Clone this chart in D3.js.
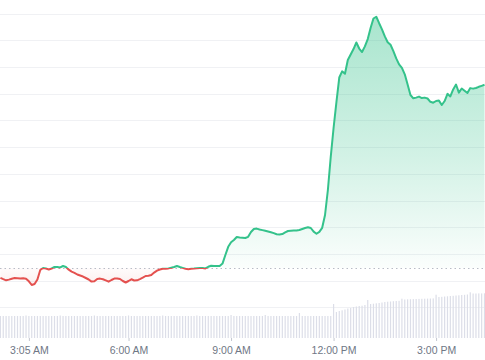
<!DOCTYPE html>
<html>
<head>
<meta charset="utf-8">
<script src="https://cdn.jsdelivr.net/npm/d3@7"></script>
<style>
  html, body { margin: 0; padding: 0; background: #ffffff; }
  svg { display: block; }
</style>
</head>
<body>
<div id="chart"></div>
<script>
// ---- data ----
const times = [
"02:15","02:20","02:25","02:30","02:35","02:40","02:45","02:50","02:55",
"03:00","03:05","03:10","03:15","03:20","03:25","03:30","03:35","03:40","03:45","03:50","03:55",
"04:00","04:05","04:10","04:15","04:20","04:25","04:30","04:35","04:40","04:45","04:50","04:55",
"05:00","05:05","05:10","05:15","05:20","05:25","05:30","05:35","05:40","05:45","05:50","05:55",
"06:00","06:05","06:10","06:15","06:20","06:25","06:30","06:35","06:40","06:45","06:50","06:55",
"07:00","07:05","07:10","07:15","07:20","07:25","07:30","07:35","07:40","07:45","07:50","07:55",
"08:00","08:05","08:10","08:15","08:20","08:25","08:30","08:35","08:40","08:45","08:50","08:55",
"09:00","09:05","09:10","09:15","09:20","09:25","09:30","09:35","09:40","09:45","09:50","09:55",
"10:00","10:05","10:10","10:15","10:20","10:25","10:30","10:35","10:40","10:45","10:50","10:55",
"11:00","11:05","11:10","11:15","11:20","11:25","11:30","11:35","11:40","11:45","11:50","11:55",
"12:00","12:05","12:10","12:15","12:20","12:25","12:30","12:35","12:40","12:45","12:50","12:55",
"13:00","13:05","13:10","13:15","13:20","13:25","13:30","13:35","13:40","13:45","13:50","13:55",
"14:00","14:05","14:10","14:15","14:20","14:25","14:30","14:35","14:40","14:45","14:50","14:55",
"15:00","15:05","15:10","15:15","15:20","15:25","15:30","15:35","15:40","15:45","15:50","15:55",
"16:00","16:05","16:10","16:15","16:20","16:25"
];

const prices = [
11.05,10.56,10.11,10.37,10.71,10.94,10.90,10.79,10.90,
10.71,9.74,8.35,8.73,10.41,13.97,14.72,14.53,14.16,14.53,15.09,15.09,
14.94,15.47,15.09,14.08,13.37,12.92,12.28,11.91,11.53,10.97,10.41,9.62,
9.77,10.60,10.75,10.49,10.07,9.59,10.22,10.75,10.79,10.60,9.85,9.29,
9.85,10.49,10.04,10.11,10.56,11.09,11.72,11.83,12.10,13.00,13.71,14.16,
14.46,14.46,14.57,14.83,15.09,15.47,15.09,14.76,14.42,14.27,14.42,14.49,
14.61,14.72,14.76,14.57,15.17,15.58,15.47,15.47,15.47,16.37,19.59,22.66,
24.34,25.20,26.33,26.18,26.07,25.95,26.40,28.20,29.32,29.47,29.17,28.91,
28.65,28.39,28.12,27.79,27.38,27.26,27.41,28.05,28.57,28.65,28.72,28.80,
28.95,29.32,29.70,29.96,29.70,28.35,27.56,28.27,29.77,34.57,43.93,56.29,
67.15,76.88,86.06,88.38,87.45,92.61,94.71,96.73,99.17,96.92,95.61,97.71,
100.48,104.60,108.16,108.83,106.40,104.11,101.45,99.28,98.34,95.91,93.21,91.00,
89.66,87.26,83.48,79.51,78.27,78.53,78.91,78.38,78.53,78.20,76.96,76.62,
77.26,77.41,75.76,77.26,79.96,78.98,81.60,83.44,80.40,81.94,81.08,80.25,
82.09,81.90,82.13,82.58,82.95,83.33
];

const volumes = [
2.2,2.2,2.2,2.2,2.2,2.2,2.2,2.2,2.2,
2.25,2.2,2.2,2.2,2.2,2.2,2.2,2.2,2.2,2.2,2.2,2.2,
2.25,2.2,2.2,2.2,2.2,2.2,2.2,2.2,2.2,2.2,2.2,2.2,
2.25,2.2,2.2,2.2,2.2,2.2,2.2,2.2,2.2,2.2,2.2,2.2,
2.25,2.2,2.2,2.2,2.2,2.2,2.2,2.2,2.2,2.2,2.2,2.2,
2.25,2.2,2.2,2.2,2.2,2.2,2.2,2.2,2.2,2.2,2.2,2.2,
2.25,2.2,2.2,2.2,2.2,2.2,2.2,2.2,2.2,2.2,2.2,2.2,
2.3,2.2,2.2,2.2,2.2,2.2,2.2,2.2,2.2,2.2,2.2,2.2,
2.3,2.2,2.2,2.2,2.2,2.2,2.2,2.2,2.2,2.2,2.2,2.2,
2.5,2.2,2.2,2.2,2.2,2.2,2.2,2.2,2.2,2.2,2.2,2.2,
3.4,2.6,2.7,2.77,2.85,2.95,3.0,3.1,3.15,3.2,3.23,3.3,
3.8,3.4,3.43,3.47,3.5,3.55,3.6,3.63,3.65,3.68,3.7,3.72,
3.93,3.85,3.87,3.88,3.89,3.9,3.91,3.92,3.93,3.94,3.95,3.96,
4.33,4.1,4.12,4.15,4.17,4.2,4.22,4.25,4.27,4.3,4.32,4.35,
4.57,4.45,4.45,4.46,4.46,4.47
];

const openPrice = 14.7;
const gridValues = [0,10,20,30,40,50,60,70,80,90,100,110];
const tickTimes = ["03:05","06:00","09:00","12:00","15:00"];
const tickLabels = ["3:05 AM","6:00 AM","9:00 AM","12:00 PM","3:00 PM"];

// ---- setup ----
const W = 485, H = 360;
const parseT = d3.timeParse("%H:%M");
const data = times.map((t, i) => ({ t: parseT(t), p: prices[i], v: volumes[i] }));

const x = d3.scaleTime()
  .domain([parseT("02:15"), parseT("16:25")])
  .range([0.4, 484.5]);
const y = d3.scaleLinear().domain([0, 110]).range([307.3, 13.6]);
const yv = d3.scaleLinear().domain([0, 6]).range([338, 278]);

const GREEN = "#34c28b";
const RED = "#e4514f";

const svg = d3.select("#chart").append("svg")
  .attr("width", W).attr("height", H)
  .style("font-family", "'Liberation Sans', Arial, sans-serif");

const defs = svg.append("defs");
const baseY = y(openPrice);

defs.append("clipPath").attr("id", "clipAbove")
  .append("rect").attr("x", -5).attr("y", -5).attr("width", W + 10).attr("height", baseY + 5);
defs.append("clipPath").attr("id", "clipBelow")
  .append("rect").attr("x", -5).attr("y", baseY).attr("width", W + 10).attr("height", H - baseY);

const gGreen = defs.append("linearGradient").attr("id", "gradGreen")
  .attr("gradientUnits", "userSpaceOnUse")
  .attr("x1", 0).attr("x2", 0).attr("y1", y(108)).attr("y2", baseY);
gGreen.append("stop").attr("offset", "0%").attr("stop-color", GREEN).attr("stop-opacity", 0.42);
gGreen.append("stop").attr("offset", "55%").attr("stop-color", GREEN).attr("stop-opacity", 0.22);
gGreen.append("stop").attr("offset", "100%").attr("stop-color", GREEN).attr("stop-opacity", 0.02);

const gRed = defs.append("linearGradient").attr("id", "gradRed")
  .attr("gradientUnits", "userSpaceOnUse")
  .attr("x1", 0).attr("x2", 0).attr("y1", baseY).attr("y2", y(8));
gRed.append("stop").attr("offset", "0%").attr("stop-color", RED).attr("stop-opacity", 0.02);
gRed.append("stop").attr("offset", "100%").attr("stop-color", RED).attr("stop-opacity", 0.10);

// grid
svg.append("g").selectAll("line").data(gridValues).join("line")
  .attr("x1", 0).attr("x2", W)
  .attr("y1", d => Math.round(y(d)) + 0.5).attr("y2", d => Math.round(y(d)) + 0.5)
  .attr("stroke", "#f0f1f4").attr("stroke-width", 1);

// volume bars
svg.append("g").selectAll("rect").data(data).join("rect")
  .attr("x", d => x(d.t) - 0.6)
  .attr("width", 1.2)
  .attr("y", d => yv(d.v))
  .attr("height", d => yv(0) - yv(d.v))
  .attr("fill", "#dcdee8");

// areas
const area = d3.area().x(d => x(d.t)).y0(baseY).y1(d => y(d.p)).curve(d3.curveLinear);
svg.append("path").datum(data).attr("d", area)
  .attr("fill", "url(#gradGreen)").attr("clip-path", "url(#clipAbove)");
svg.append("path").datum(data).attr("d", area)
  .attr("fill", "url(#gradRed)").attr("clip-path", "url(#clipBelow)");

// baseline dotted
svg.append("line")
  .attr("x1", 0).attr("x2", W)
  .attr("y1", Math.round(baseY) + 0.5).attr("y2", Math.round(baseY) + 0.5)
  .attr("stroke", "#b8bcc6").attr("stroke-width", 1)
  .attr("stroke-dasharray", "1.5,3");

// lines
const line = d3.line().x(d => x(d.t)).y(d => y(d.p)).curve(d3.curveLinear);
svg.append("path").datum(data).attr("d", line)
  .attr("fill", "none").attr("stroke", GREEN).attr("stroke-width", 2)
  .attr("stroke-linejoin", "round").attr("clip-path", "url(#clipAbove)");
svg.append("path").datum(data).attr("d", line)
  .attr("fill", "none").attr("stroke", RED).attr("stroke-width", 2)
  .attr("stroke-linejoin", "round").attr("clip-path", "url(#clipBelow)");

// x axis
const xAxis = d3.axisBottom(x)
  .tickValues(tickTimes.map(parseT))
  .tickFormat((d, i) => tickLabels[i])
  .tickSize(3).tickPadding(6);
const ax = svg.append("g").attr("transform", "translate(0,338)").call(xAxis);
ax.select(".domain").remove();
ax.selectAll(".tick line").attr("stroke", "#c4c7d0");
ax.selectAll(".tick text")
  .attr("fill", "#6f7785")
  .style("font-size", "10.5px")
  .style("font-family", "'Liberation Sans', Arial, sans-serif");
</script>
</body>
</html>
